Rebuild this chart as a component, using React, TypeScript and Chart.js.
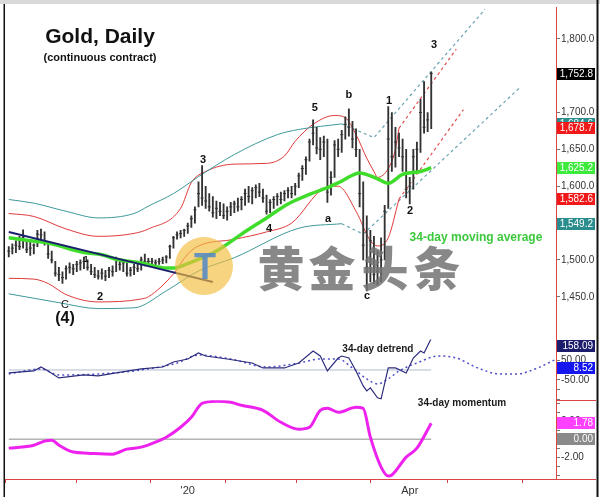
import { useEffect, useRef } from "react";
import { Chart, registerables } from "chart.js";
Chart.register(...registerables);

// Trading-day index: 0 = 1 Nov 2019. First bar = 21 Oct 2019.
const FIRST_DAY = -9;
const highs = [
  1518, 1522, 1526, 1532, 1541, 1528, 1524, 1522, 1540, 1542,
  1538, 1522, 1512, 1498, 1490, 1484, 1492, 1496, 1494, 1498,
  1500, 1504, 1500, 1494, 1490, 1486, 1488, 1486, 1490, 1492,
  1504, 1500, 1498, 1496, 1490, 1494, 1496, 1504, 1508, 1502,
  1502, 1500, 1502, 1504, 1506, 1520, 1532, 1538, 1540, 1542,
  1550, 1560, 1572, 1606, 1628, 1600, 1590, 1586, 1580, 1578,
  1576, 1572, 1578, 1580, 1584, 1586, 1596, 1600, 1598, 1602,
  1604, 1596, 1588, 1582, 1586, 1590, 1592, 1594, 1598, 1600,
  1604, 1618, 1628, 1640, 1664, 1690, 1680, 1666, 1668, 1664,
  1620, 1662, 1664, 1676, 1694, 1705, 1688, 1678, 1650, 1606,
  1560, 1540, 1532, 1512, 1530, 1574, 1708, 1700, 1680, 1672,
  1664, 1650, 1612, 1650, 1660, 1718, 1742, 1700, 1755,
];
const lows = [
  1504, 1508, 1510, 1514, 1516, 1510, 1506, 1508, 1518, 1526,
  1520, 1502, 1496, 1478, 1472, 1468, 1474, 1482, 1480, 1484,
  1486, 1488, 1486, 1480, 1476, 1474, 1474, 1472, 1476, 1478,
  1484, 1486, 1484, 1478, 1478, 1480, 1484, 1486, 1492, 1492,
  1494, 1492, 1494, 1495, 1496, 1502, 1516, 1528, 1530, 1532,
  1536, 1544, 1550, 1572, 1574, 1570, 1566, 1558, 1556, 1560,
  1556, 1554, 1560, 1564, 1566, 1568, 1574, 1578, 1576, 1584,
  1586, 1578, 1562, 1564, 1570, 1574, 1576, 1580, 1584, 1584,
  1588, 1598, 1608, 1616, 1634, 1656, 1644, 1636, 1640, 1578,
  1588, 1612, 1640, 1646, 1664, 1668, 1652, 1640, 1572, 1500,
  1458, 1470, 1468, 1466, 1470, 1500, 1570, 1620, 1626, 1640,
  1620, 1584, 1576, 1596, 1620, 1646, 1672, 1674, 1678,
];
const closes = [
  1512, 1516, 1520, 1518, 1530, 1514, 1516, 1520, 1535, 1534,
  1524, 1508, 1500, 1482, 1480, 1476, 1488, 1490, 1488, 1494,
  1496, 1498, 1490, 1484, 1480, 1478, 1482, 1478, 1486, 1484,
  1500, 1494, 1496, 1482, 1486, 1490, 1488, 1500, 1498, 1498,
  1498, 1496, 1498, 1500, 1504, 1518, 1530, 1534, 1536, 1540,
  1546, 1556, 1568, 1590, 1584, 1580, 1572, 1564, 1570, 1566,
  1560, 1566, 1572, 1576, 1572, 1582, 1590, 1586, 1594, 1598,
  1592, 1584, 1566, 1578, 1582, 1586, 1582, 1590, 1594, 1590,
  1600, 1614, 1624, 1636, 1660, 1672, 1652, 1650, 1660, 1592,
  1612, 1656, 1650, 1670, 1684, 1680, 1664, 1650, 1590, 1520,
  1490, 1526, 1480, 1484, 1500, 1566, 1664, 1640, 1660, 1652,
  1640, 1596, 1600, 1640, 1650, 1700, 1680, 1690, 1752.8,
];

// 34-day moving average (green)
const maDays = [-9, -3, 2, 12, 17, 21, 28, 35, 37, 41, 49, 56, 63, 69, 75, 81, 84, 89, 94, 97, 101, 106, 109];
const maValues = [1530, 1526, 1523, 1510, 1507, 1501, 1496, 1489, 1489, 1495, 1512, 1535, 1557, 1576, 1589, 1600, 1607, 1618, 1610, 1604, 1616, 1620, 1625.2];

// envelopes
const tealUpDays = [-9, -2, 7, 16, 26, 30, 37, 44, 54, 66, 72, 84];
const tealUpValues = [1582, 1577, 1566, 1557, 1563, 1573, 1590, 1613, 1643, 1670, 1677, 1684.6];
const redUpDays = [-9, -2, 7, 16, 26, 30, 39, 42, 46, 54, 63, 68, 71, 76, 82, 85, 88, 91, 93, 94, 97, 99, 100];
const redUpValues = [1563, 1559, 1542, 1532, 1536, 1542, 1570, 1605, 1620, 1630, 1631, 1641, 1661, 1684, 1696, 1693, 1670, 1638, 1620, 1612, 1624, 1650, 1678.7];
const redLoDays = [-9, -2, 2, 7, 16, 28, 30, 37, 41, 44, 54, 63, 70, 79, 83, 88, 92, 94, 97, 100];
const redLoValues = [1475, 1474, 1468, 1453, 1443, 1447, 1450, 1481, 1508, 1519, 1528, 1538, 1550, 1597, 1600, 1566, 1526, 1519, 1530, 1582.6];
const tealLoDays = [-9, -2, 5, 16, 26, 35, 44, 54, 72, 84];
const tealLoValues = [1454, 1448, 1442, 1434, 1435, 1458, 1485, 1503, 1543, 1549.2];

// projected channel (dashed)
const tealUpDashDays = [84, 93, 124];
const tealUpDashValues = [1684.6, 1666, 1840];
const redUpDashDays = [100, 116];
const redUpDashValues = [1678.7, 1786];
const redLoDashDays = [100, 118];
const redLoDashValues = [1582.6, 1704];
const tealLoDashDays = [84, 90, 134];
const tealLoDashValues = [1549.2, 1535, 1735];

// declining trendline (navy)
const trendDays = [-9, 48];
const trendValues = [1538, 1470];

// 34-day detrend
const detrendDays = [-9, -2, 0, 2, 5, 12, 16, 21, 28, 34, 37, 41, 44, 46, 52, 59, 62, 68, 72, 76, 78, 80, 83, 84, 86, 88, 90, 91, 92, 94, 95, 97, 99, 102, 104, 106, 107, 109];
const detrendValues = [-15, -5, 15, -5, -40, -25, -30, -15, 5, 15, 40, 55, 85, 70, 55, 35, 10, 10, 35, 95, 70, -5, 60, 70, 60, -5, -80, -105, -90, -140, -145, 10, 10, -15, 60, 95, 85, 158.09];
const cycleDays = [-9, 0, 5, 16, 28, 38, 44, 53, 63, 72, 78, 83, 87, 91, 94, 97, 100, 105, 111, 116, 122, 128, 133, 138, 144];
const cycleValues = [-20, 5, -25, -20, 0, 35, 75, 55, 15, 35, 55, 55, 10, -45, -70, -45, -5, 35, 70, 60, 10, -20, -20, 5, 55];

// 34-day momentum
const momDays = [-9, -2, 1, 3, 5, 9, 13, 20, 24, 28, 32, 35, 39, 42, 45, 49, 53, 56, 62, 67, 72, 75, 78, 80, 83, 88, 90, 92, 95, 97, 98, 102, 105, 109];
const momValues = [-1.0, -0.67, -0.22, -0.11, -0.67, -1.44, -1.56, -1.67, -1.11, -0.89, -0.33, 0.22, 1.33, 2.44, 4.0, 4.22, 4.11, 3.78, 3.22, 1.89, 1.11, 1.33, 3.22, 3.44, 3.0, 3.56, 3.44, 0.22, -3.11, -4.11, -4.0, -2.0, -1.0, 1.78];

// axis ticks
const monthTickDays = [0, 20, 41, 62, 81, 103, 124];
const monthTickLabels = ["", "", "'20", "", "", "Apr", ""];
const priceTicks = [1450, 1500, 1550, 1600, 1650, 1700, 1750, 1800];
const detrendTicks = [-150, -100, -50, 0, 50, 100, 150];
const detrendLabelled = [50, -50];
const momentumTicks = [-4, -3, -2, -1, 0, 1, 2, 3, 4];
const momentumLabelled = [2, 0, -2];

// wave labels: [text, day, price, font]
const waveLabels: [string, number, number, string][] = [
  ["3", 45.3, 1635, "bold 11px"],
  ["5", 76.5, 1706.8, "bold 11px"],
  ["b", 86, 1724.3, "bold 11px"],
  ["1", 97.2, 1716.2, "bold 11px"],
  ["a", 80.2, 1555.4, "bold 11px"],
  ["c", 91.1, 1451.3, "bold 11px"],
  ["2", 103.1, 1566.2, "bold 11px"],
  ["3", 109.8, 1791.9, "bold 11px"],
  ["4", 63.7, 1541.9, "bold 11px"],
  ["1", 12.6, 1500, "bold 9px"],
  ["2", 16.5, 1450, "bold 11px"],
  ["C", 6.7, 1439.2, "11px"],
  ["(4)", 6.7, 1420.3, "bold 16px"],
];

// right-hand value tags
const priceTags: [number, string, string][] = [
  [1752.8, "1,752.8", "#000000"],
  [1684.6, "1,684.6", "#2a8c8c"],
  [1678.7, "1,678.7", "#f01818"],
  [1625.2, "1,625.2", "#3cea3c"],
  [1582.6, "1,582.6", "#f01818"],
  [1549.2, "1,549.2", "#2a8c8c"],
];
const detrendTags: [number, string, string][] = [
  [158.09, "158.09", "#1c1c6c"],
  [8.52, "8.52", "#1616ee"],
];
const momentumTags: [number, string, string][] = [
  [1.78, "1.78", "#ff40ff"],
  [0, "0.00", "#8a8a8a"],
];

const FONT = '"Liberation Sans", Arial, sans-serif';

function pts(days: number[], vals: number[]) {
  return days.map((d, k) => ({ x: d, y: vals[k] }));
}

const decorPlugin = {
  id: "decor",
  beforeDraw(chart: any) {
    const ctx = chart.ctx;
    ctx.save();
    ctx.fillStyle = "#ffffff";
    ctx.fillRect(0, 0, chart.width, chart.height);
    ctx.restore();
  },
  afterDatasetsDraw(chart: any) {
    const ctx = chart.ctx;
    const xs = chart.scales.x;
    const yp = chart.scales.y;
    const yd = chart.scales.yd;
    const ym = chart.scales.ym;
    ctx.save();
    ctx.textAlign = "center";
    ctx.textBaseline = "middle";
    ctx.fillStyle = "#111";
    for (const [t, d, v, f] of waveLabels) {
      ctx.font = `${f} ${FONT}`;
      ctx.fillText(t, xs.getPixelForValue(d), yp.getPixelForValue(v));
    }
    ctx.font = `bold 21px ${FONT}`;
    ctx.fillText("Gold, Daily", 100, 37);
    ctx.font = `bold 11px ${FONT}`;
    ctx.fillText("(continuous contract)", 100, 58);
    ctx.font = `bold 12px ${FONT}`;
    ctx.fillStyle = "#3cc83c";
    ctx.fillText("34-day moving average", xs.getPixelForValue(121.5), yp.getPixelForValue(1529.7));
    ctx.fillStyle = "#1a1a1a";
    ctx.font = `bold 10px ${FONT}`;
    ctx.fillText("34-day detrend", xs.getPixelForValue(94.1), yd.getPixelForValue(105));
    ctx.fillText("34-day momentum", xs.getPixelForValue(117.6), ym.getPixelForValue(4.0));
    ctx.restore();
  },
  afterDraw(chart: any) {
    const ctx = chart.ctx;
    const area = chart.chartArea;
    const yp = chart.scales.y;
    const yd = chart.scales.yd;
    const ym = chart.scales.ym;
    ctx.save();
    // watermark
    ctx.fillStyle = "rgba(243,190,60,0.66)";
    ctx.beginPath();
    ctx.arc(204, 266, 29, 0, Math.PI * 2);
    ctx.fill();
    ctx.fillStyle = "rgba(80,135,200,0.85)";
    ctx.font = `bold 36px ${FONT}`;
    ctx.textAlign = "center";
    ctx.textBaseline = "middle";
    ctx.fillText("T", 205, 269);
    ctx.fillStyle = "rgba(115,115,115,0.85)";
    ctx.font = `900 47px "Noto Sans CJK SC", sans-serif`;
    const chars = ["黄", "金", "头", "条"];
    const cx = [281, 332, 385, 437];
    chars.forEach((c, k) => ctx.fillText(c, cx[k], 268));

    // panel separators on the axis side and bottom line extension
    ctx.strokeStyle = "#dd4444";
    ctx.lineWidth = 1;
    ctx.beginPath();
    ctx.moveTo(area.right, 400.5);
    ctx.lineTo(596, 400.5);
    ctx.moveTo(area.right, area.bottom + 0.5);
    ctx.lineTo(596, area.bottom + 0.5);
    ctx.stroke();

    // value tags
    const tag = (scale: any, v: number, text: string, bg: string) => {
      let y = scale.getPixelForValue(v);
      y = Math.max(scale.top + 6, Math.min(scale.bottom - 6, y));
      ctx.fillStyle = bg;
      ctx.fillRect(557, Math.round(y) - 6, 38, 12);
      ctx.fillStyle = "#ffffff";
      ctx.font = `10px ${FONT}`;
      ctx.textAlign = "right";
      ctx.textBaseline = "middle";
      ctx.fillText(text, 593, Math.round(y) + 0.5);
    };
    for (const [v, t, c] of priceTags) tag(yp, v, t, c);
    for (const [v, t, c] of detrendTags) tag(yd, v, t, c);
    for (const [v, t, c] of momentumTags) tag(ym, v, t, c);

    // frame
    ctx.fillStyle = "#d9d9d9";
    ctx.fillRect(0, 0, 600, 4);
    ctx.fillStyle = "#111";
    ctx.fillRect(3.5, 4, 1.5, 493);
    ctx.fillRect(596.5, 0, 2, 497);
    ctx.restore();
  },
};

export default function App() {
  const ref = useRef<HTMLCanvasElement>(null);
  useEffect(() => {
    const canvas = ref.current!;
    const barData = highs.map((h, k) => ({ x: FIRST_DAY + k, y: [lows[k], h] }));
    const closeData = closes.map((c, k) => ({ x: FIRST_DAY + k, y: c }));
    const zeroDays = [FIRST_DAY, FIRST_DAY + highs.length - 1];
    const line = (data: any, color: string, width: number, axis: string, order: number, extra: any = {}) => ({
      type: "line",
      data,
      borderColor: color,
      borderWidth: width,
      pointRadius: 0,
      fill: false,
      yAxisID: axis,
      order,
      cubicInterpolationMode: "monotone",
      ...extra,
    });
    const tickAxis = (stackWeight: number, min: number, max: number, ticks: number[], cb: (v: number) => string) => ({
      type: "linear",
      position: "right",
      stack: "panes",
      stackWeight,
      min,
      max,
      afterBuildTicks: (s: any) => {
        s.ticks = ticks.map((v) => ({ value: v }));
      },
      afterFit: (s: any) => {
        s.width = 44;
      },
      ticks: { callback: cb, font: { size: 10, family: FONT }, color: "#333", padding: 1, autoSkip: false },
      grid: { drawOnChartArea: false, drawTicks: true, tickLength: 4, color: "#777" },
      border: { color: "#dd4444", width: 1 },
    });
    const chart = new Chart(canvas, {
      type: "line",
      data: {
        datasets: [
          { type: "scatter", data: closeData, yAxisID: "y", order: 3, pointStyle: "line", pointRadius: 1.5, pointBorderWidth: 1, pointBorderColor: "#333", showLine: false } as any,
          { type: "bar", data: barData, yAxisID: "y", order: 4, backgroundColor: "#333333", barThickness: 1.2, grouped: false, borderWidth: 0 } as any,
          line(pts(trendDays, trendValues), "#1a1f6e", 2, "y", 1),
          line(pts(maDays, maValues), "#3fdc2c", 3.5, "y", 2),
          line(pts(tealUpDays, tealUpValues), "#3f9a9a", 1, "y", 6),
          line(pts(redUpDays, redUpValues), "#e03a3a", 1, "y", 6),
          line(pts(redLoDays, redLoValues), "#e03a3a", 1, "y", 6),
          line(pts(tealLoDays, tealLoValues), "#3f9a9a", 1, "y", 6),
          line(pts(tealUpDashDays, tealUpDashValues), "#6aa2b4", 1.2, "y", 6, { borderDash: [3, 3], cubicInterpolationMode: "default", tension: 0 }),
          line(pts(tealLoDashDays, tealLoDashValues), "#6aa2b4", 1.2, "y", 6, { borderDash: [3, 3], cubicInterpolationMode: "default", tension: 0 }),
          line(pts(redUpDashDays, redUpDashValues), "#e05050", 1.2, "y", 6, { borderDash: [3, 3], cubicInterpolationMode: "default", tension: 0 }),
          line(pts(redLoDashDays, redLoDashValues), "#e05050", 1.2, "y", 6, { borderDash: [3, 3], cubicInterpolationMode: "default", tension: 0 }),
          line(pts(zeroDays, [0, 0]), "#b4bccc", 1, "yd", 9),
          line(pts(cycleDays, cycleValues), "#5050c8", 1.5, "yd", 8, { borderDash: [2, 3] }),
          line(pts(detrendDays, detrendValues), "#2c2c7c", 1.2, "yd", 7, { cubicInterpolationMode: "default", tension: 0 }),
          line(pts(zeroDays, [0, 0]), "#8c8c8c", 1, "ym", 9),
          line(pts(momDays, momValues), "#ee22ee", 3, "ym", 7),
        ],
      },
      options: {
        responsive: false,
        animation: false,
        devicePixelRatio: 1,
        layout: { padding: { left: 5, top: 5, right: 0, bottom: 0 } },
        plugins: { legend: { display: false }, tooltip: { enabled: false } },
        scales: {
          x: {
            type: "linear",
            position: "bottom",
            min: -10.05,
            max: 143.85,
            offset: false,
            afterBuildTicks: (s: any) => {
              s.ticks = monthTickDays.map((v) => ({ value: v }));
            },
            afterFit: (s: any) => {
              s.height = 18;
            },
            ticks: {
              callback: (v: any) => {
                const k = monthTickDays.indexOf(Number(v));
                return k >= 0 ? monthTickLabels[k] : "";
              },
              font: { size: 11, family: FONT },
              color: "#333",
              padding: 1,
              maxRotation: 0,
              autoSkip: false,
            },
            grid: { drawOnChartArea: false, drawTicks: true, tickLength: 4, color: "#cc4444" },
            border: { color: "#dd4444", width: 1 },
          },
          y: tickAxis(334, 1391.9, 1843.2, priceTicks, (v) =>
            Number(v).toLocaleString("en-US", { minimumFractionDigits: 1, maximumFractionDigits: 1 })
          ),
          yd: tickAxis(61, -152.5, 152.5, detrendTicks, (v) => (detrendLabelled.includes(Number(v)) ? Number(v).toFixed(2) : "")),
          ym: tickAxis(79, -4.444, 4.333, momentumTicks, (v) => (momentumLabelled.includes(Number(v)) ? Number(v).toFixed(2) : "")),
        },
      } as any,
      plugins: [decorPlugin],
    } as any);
    return () => chart.destroy();
  }, []);
  return (
    <div style={{ position: "fixed", left: 0, top: 0, width: 600, height: 497, background: "#fff" }}>
      <canvas ref={ref} width={600} height={497} style={{ display: "block", width: 600, height: 497 }} />
    </div>
  );
}
